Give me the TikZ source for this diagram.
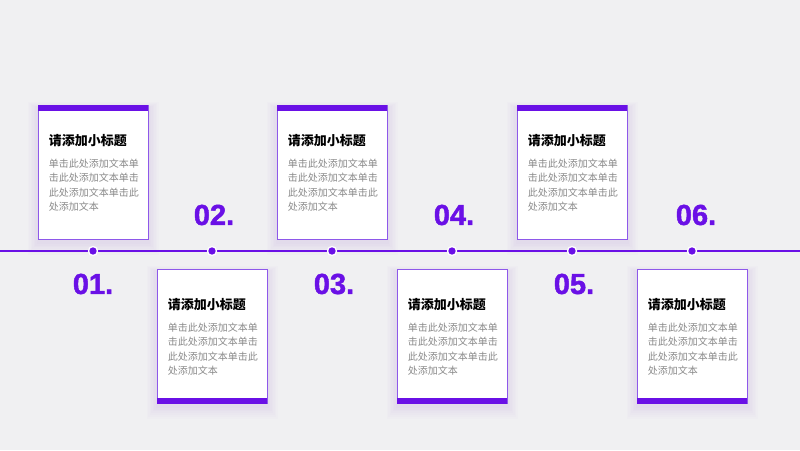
\documentclass[tikz,border=0pt]{standalone}
\usepackage{fontspec}
\setmainfont{Liberation Sans}
\newfontfamily\cjk{Noto Sans CJK SC}
\newfontfamily\numfont{Liberation Sans}[BoldFeatures={FakeBold=1.6}]
\definecolor{bg}{HTML}{F0F0F2}
\definecolor{pur}{HTML}{6A10E6}
\definecolor{purlight}{HTML}{8E58EA}
\definecolor{bodygray}{HTML}{8A8A8A}
\tikzset{
  card/.style={draw=purlight, line width=0.9pt, fill=white, minimum width=110pt, minimum height=134pt, inner sep=0pt},
  cardtitle/.style={anchor=west, font=\cjk\bfseries\fontsize{13}{15}\selectfont, text=black, inner sep=0pt},
  cardbody/.style={anchor=north west, font=\cjk\fontsize{10}{14.3}\selectfont, text=bodygray, inner sep=0pt, align=left},
  num/.style={font=\numfont\bfseries\fontsize{29}{30}\selectfont, text=pur, inner sep=0pt},
  dot/.style={circle, fill=pur, draw=white, line width=1.3pt, minimum size=9pt, inner sep=0pt},
}
\begin{document}
\begin{tikzpicture}[x=1pt,y=-1pt]
\fill[bg] (0,0) rectangle (800,450);
\useasboundingbox (0,0) rectangle (800,450);
% timeline
\coordinate (L) at (0,251);
\coordinate (R) at (800,251);
\draw[pur, line width=1.6pt] (L) -- (R);
% shadows
\foreach \cx/\top in {93/105,212/269,332/105,452/269,572/105,692/269}{
  \foreach \i in {1,...,7}{
    \fill[pur, opacity=0.010] (\cx-55-\i*1.5, \top-\i*0.8+3) rectangle (\cx+55+\i*1.5, \top+134+\i*1.8+3);
  }
}
% dots
\foreach \n/\cx in {1/93,2/212,3/332,4/452,5/572,6/692}{
  \node[dot] (d\n) at (\cx,251) {};
}
% cards
\foreach \n/\cx/\top/\up in {1/93/105/1,2/212/269/0,3/332/105/1,4/452/269/0,5/572/105/1,6/692/269/0}{
  \node[card, anchor=north] (c\n) at (\cx,\top) {};
  \ifnum\up=1
    \fill[pur] (c\n.north west) rectangle ([yshift=-6pt]c\n.north east);
  \else
    \fill[pur] ([yshift=6pt]c\n.south west) rectangle (c\n.south east);
  \fi
  \node[cardtitle] (t\n) at ([xshift=11pt]c\n.north west |- 0,\top+35.5) {请添加小标题};
  \node[cardbody] (b\n) at ([xshift=11pt]c\n.north west |- 0,\top+54) {单击此处添加文本单\\击此处添加文本单击\\此处添加文本单击此\\处添加文本};
}
% numbers
\node[num] (n1) at (93,284) {01.};
\node[num] (n2) at (214,215) {02.};
\node[num] (n3) at (334,284) {03.};
\node[num] (n4) at (454,215) {04.};
\node[num] (n5) at (574,284) {05.};
\node[num] (n6) at (696,215) {06.};
\end{tikzpicture}
\end{document}
